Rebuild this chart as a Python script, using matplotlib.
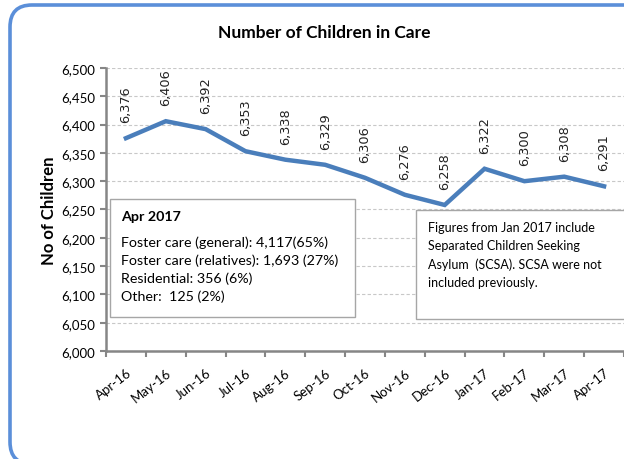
import matplotlib
matplotlib.use("Agg")
import matplotlib.pyplot as plt
from matplotlib.patches import Rectangle, FancyBboxPatch
import numpy as np

months = ["Apr-16", "May-16", "Jun-16", "Jul-16", "Aug-16", "Sep-16", "Oct-16",
          "Nov-16", "Dec-16", "Jan-17", "Feb-17", "Mar-17", "Apr-17"]
children = [6376, 6406, 6392, 6353, 6338, 6329, 6306, 6276, 6258, 6322, 6300, 6308, 6291]
yticks = list(range(6000, 6501, 50))

title = "Number of Children in Care"
ylabel = "No of Children"
box1_title = "Apr 2017"
box1_lines = ["Foster care (general): 4,117(65%)",
              "Foster care (relatives): 1,693 (27%)",
              "Residential: 356 (6%)",
              "Other:  125 (2%)"]
box2_lines = ["Figures from Jan 2017 include",
              "Separated Children Seeking",
              "Asylum  (SCSA). SCSA were not",
              "included previously."]

W, H = 624, 460
fig = plt.figure(figsize=(W / 100, H / 100), dpi=100)
fx = lambda px: px / W
fy = lambda py: 1 - py / H

FONT = "Lato"
GRAY = "#868686"
BLUE = "#4A7EBB"

ax = fig.add_axes([fx(106), fy(352), fx(624) - fx(106), fy(69) - fy(352)])
x = np.arange(len(months))
ax.plot(x, children, color=BLUE, lw=3.2, solid_joinstyle="miter", zorder=3)
for xi, v in zip(x, children):
    ax.annotate(f"{v:,}", (xi, v), xytext=(0, 11.5), textcoords="offset points",
                rotation=90, ha="center", va="bottom", fontsize=9.3,
                family="DejaVu Sans", color="#222222", zorder=4)

ax.set_xlim(-0.5, len(months) - 0.5)
ax.set_ylim(6000, 6500)
ax.set_yticks(yticks)
ax.set_yticklabels([f"{t:,}" for t in yticks], family=FONT, fontsize=9.5)
ax.set_xticks(x)
ax.set_xticklabels(months, rotation=38, ha="right", va="top",
                   rotation_mode="anchor", family=FONT, fontsize=9.5)
ax.set_xticks(np.arange(-0.5, len(months), 1), minor=True)
ax.tick_params(axis="x", which="major", length=0, pad=11)
ax.tick_params(axis="x", which="minor", length=4, width=1.5, color=GRAY, direction="out")
ax.tick_params(axis="y", length=4, width=1.5, color=GRAY, pad=4)
for s in ["top", "right"]:
    ax.spines[s].set_visible(False)
for s in ["left", "bottom"]:
    ax.spines[s].set_color(GRAY)
    ax.spines[s].set_linewidth(1.8)
ax.yaxis.grid(True, ls=(0, (3, 2)), color="#c8c8c8", lw=0.8)
ax.set_axisbelow(True)

fig.text(fx(324), fy(33), title, ha="center", va="center", fontsize=12.5,
         fontweight="bold", family=FONT)
fig.text(fx(49), fy(211), ylabel, ha="center", va="center", rotation=90,
         fontsize=12, fontweight="bold", family=FONT)

# Box 1
fig.add_artist(Rectangle((fx(110), fy(318)), fx(355) - fx(110), fy(200) - fy(318),
                         transform=fig.transFigure, fc="white", ec="#a6a6a6",
                         lw=1, zorder=5))
fig.text(fx(121), fy(217), box1_title, ha="left", va="center", fontsize=10.3,
         fontweight="bold", family=FONT, zorder=6)
for i, line in enumerate(box1_lines):
    fig.text(fx(121), fy(243 + 18 * i), line, ha="left", va="center",
             fontsize=10.3, family=FONT, zorder=6)

# Box 2
fig.add_artist(Rectangle((fx(416), fy(320)), fx(640) - fx(416), fy(211) - fy(320),
                         transform=fig.transFigure, fc="white", ec="#a6a6a6",
                         lw=1, zorder=5))
for i, line in enumerate(box2_lines):
    fig.text(fx(428), fy(228 + 18.3 * i), line, ha="left", va="center",
             fontsize=9, family=FONT, zorder=6)

# Outer rounded frame
frame = FancyBboxPatch((0.10, -0.05), 7.0, 4.59,
                       boxstyle="round,pad=0,rounding_size=0.22",
                       transform=fig.dpi_scale_trans, fc="none",
                       ec="#5B8FD9", lw=2.6, zorder=10)
fig.add_artist(frame)

fig.savefig("out.png", dpi=100)
